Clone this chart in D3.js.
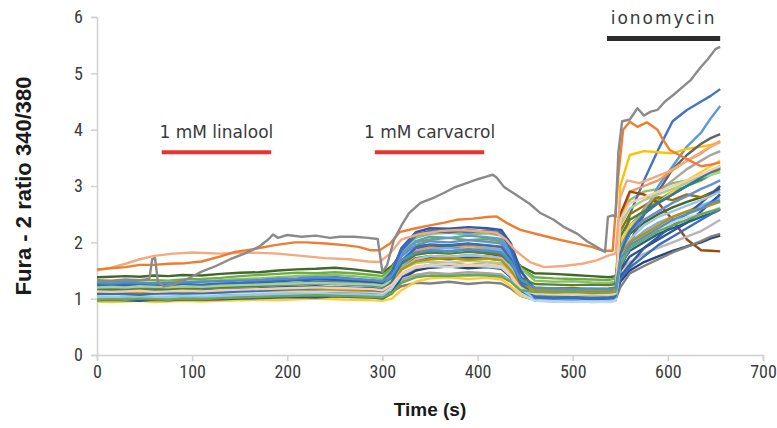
<!DOCTYPE html>
<html><head><meta charset="utf-8">
<script src="https://cdn.jsdelivr.net/npm/d3@7"></script>
<style>body{margin:0;background:#fff}svg{display:block}</style>
</head><body><svg id="c" width="777" height="428"></svg>
<script>
// shared sample times (s) for the bundle traces
const times = [0,15,30,45,60,75,90,110,130,150,170,190,210,230,250,270,290,300,310,320,335,350,370,390,410,425,435,445,460,480,500,520,538,545,550,560,575,590,605,620,635,645,655];

const bundleColors = ["#43682b","#70ad47","#8cc168","#4472c4","#5b9bd5","#ffc000","#636363","#f1975a","#9e480e","#264478","#808080","#b7b7b7","#255e91","#997300","#698ed0","#ffcd33","#7cafdd","#335aa1","#a5a5a5","#2f5597","#9dc3e6","#548235","#3c6bbf","#bdd7ee","#a9d18e","#bf9000","#2e75b6","#f8cbad","#6aa84f","#4f8fcf"];

const bundleValues = [
[1.38,1.39,1.40,1.39,1.41,1.40,1.42,1.41,1.44,1.46,1.47,1.50,1.52,1.53,1.55,1.52,1.48,1.46,1.58,1.80,1.93,1.96,1.95,1.98,1.94,1.92,1.80,1.58,1.45,1.44,1.42,1.40,1.38,1.40,1.80,2.15,2.35,2.50,2.62,2.72,2.80,2.88,2.95],
[1.30,1.31,1.30,1.32,1.33,1.32,1.34,1.35,1.37,1.40,1.42,1.44,1.46,1.45,1.47,1.45,1.42,1.40,1.55,1.82,2.00,2.05,2.08,2.04,2.06,2.02,1.85,1.55,1.38,1.36,1.35,1.34,1.33,1.36,1.90,2.30,2.55,2.75,2.90,3.00,3.10,3.20,3.30],
[1.25,1.26,1.27,1.26,1.28,1.30,1.29,1.31,1.33,1.35,1.36,1.38,1.40,1.41,1.42,1.40,1.37,1.35,1.50,1.85,2.08,2.15,2.17,2.14,2.16,2.12,1.92,1.55,1.32,1.30,1.31,1.29,1.28,1.30,2.40,2.75,2.90,2.95,3.05,3.10,3.15,3.20,3.25],
[1.20,1.21,1.22,1.20,1.21,1.22,1.23,1.22,1.25,1.28,1.32,1.35,1.33,1.30,1.31,1.30,1.28,1.26,1.45,1.85,2.12,2.20,2.22,2.18,2.21,2.18,1.95,1.50,1.15,1.12,1.10,1.11,1.10,1.12,1.70,2.50,3.10,3.65,4.15,4.35,4.50,4.60,4.72],
[1.15,1.14,1.16,1.15,1.17,1.16,1.18,1.17,1.19,1.21,1.22,1.24,1.25,1.27,1.26,1.24,1.22,1.20,1.40,1.78,2.02,2.10,2.08,2.12,2.09,2.06,1.80,1.40,1.03,1.00,1.01,0.99,1.00,1.02,1.50,1.95,2.50,3.00,3.35,3.70,3.95,4.20,4.42],
[0.98,0.97,0.99,0.98,0.97,0.98,0.99,0.98,1.00,1.01,1.02,1.03,1.04,1.05,1.04,1.03,1.02,1.01,1.08,1.30,1.50,1.58,1.62,1.60,1.63,1.60,1.45,1.20,1.02,1.00,0.99,1.00,0.99,1.01,3.00,3.55,3.62,3.60,3.58,3.66,3.70,3.73,3.78],
[1.10,1.11,1.10,1.09,1.11,1.12,1.11,1.13,1.14,1.15,1.16,1.18,1.19,1.20,1.21,1.19,1.17,1.15,1.30,1.62,1.80,1.86,1.84,1.88,1.85,1.82,1.62,1.30,1.07,1.05,1.06,1.04,1.05,1.07,1.50,2.00,2.50,2.90,3.30,3.55,3.75,3.85,3.92],
[1.08,1.09,1.08,1.10,1.09,1.10,1.11,1.12,1.13,1.14,1.15,1.16,1.18,1.17,1.19,1.18,1.16,1.14,1.30,1.65,1.85,1.92,1.90,1.93,1.91,1.88,1.68,1.35,1.17,1.15,1.16,1.14,1.15,1.17,2.30,2.90,3.00,3.10,3.28,3.45,3.58,3.70,3.80],
[1.05,1.06,1.05,1.07,1.06,1.08,1.07,1.09,1.10,1.11,1.12,1.13,1.14,1.15,1.14,1.13,1.12,1.10,1.28,1.65,1.90,1.95,1.92,1.85,1.80,1.76,1.55,1.25,1.10,1.08,1.09,1.07,1.08,1.10,2.50,2.90,2.85,2.70,2.40,2.05,1.86,1.85,1.84],
[1.00,0.99,1.01,1.00,0.99,1.00,1.01,1.00,1.02,1.01,1.03,1.04,1.05,1.04,1.06,1.05,1.04,1.03,1.12,1.35,1.50,1.55,1.57,1.54,1.56,1.53,1.38,1.15,1.01,1.00,0.99,1.00,0.99,1.00,1.30,1.50,1.65,1.75,1.85,1.93,2.00,2.07,2.12],
[1.05,1.06,1.05,1.04,1.06,1.05,1.07,1.06,1.08,1.09,1.10,1.11,1.12,1.11,1.10,1.09,1.08,1.07,1.12,1.22,1.28,1.27,1.30,1.26,1.29,1.27,1.18,1.05,0.98,0.97,0.98,0.96,0.97,0.98,1.20,1.45,1.58,1.70,1.82,1.92,2.02,2.10,2.15],
[1.15,1.14,1.15,1.16,1.14,1.15,1.16,1.15,1.17,1.16,1.18,1.19,1.20,1.21,1.20,1.19,1.18,1.17,1.22,1.35,1.42,1.40,1.43,1.41,1.44,1.40,1.30,1.12,1.05,1.04,1.05,1.03,1.04,1.05,1.50,1.65,1.80,1.90,2.00,2.10,2.20,2.30,2.40],
[1.12,1.13,1.12,1.11,1.13,1.14,1.13,1.14,1.16,1.17,1.18,1.20,1.21,1.22,1.20,1.19,1.18,1.16,1.28,1.55,1.68,1.72,1.70,1.73,1.71,1.69,1.52,1.25,1.06,1.05,1.04,1.05,1.04,1.06,1.60,1.85,2.00,2.15,2.25,2.35,2.45,2.52,2.60],
[1.08,1.07,1.08,1.09,1.10,1.09,1.10,1.11,1.12,1.13,1.12,1.14,1.15,1.16,1.15,1.14,1.13,1.12,1.25,1.55,1.72,1.76,1.74,1.77,1.75,1.72,1.55,1.30,1.20,1.18,1.19,1.17,1.18,1.20,2.20,2.50,2.65,2.80,2.75,2.85,2.80,2.85,2.90],
[1.18,1.19,1.18,1.20,1.19,1.21,1.20,1.22,1.23,1.24,1.26,1.27,1.28,1.27,1.29,1.28,1.26,1.24,1.40,1.75,1.95,2.02,2.00,2.04,2.01,1.98,1.75,1.35,1.12,1.10,1.11,1.09,1.10,1.12,1.90,2.20,2.40,2.55,2.70,2.82,2.95,3.02,3.10],
[0.95,0.94,0.95,0.96,0.94,0.95,0.96,0.95,0.96,0.97,0.98,0.97,0.99,1.00,0.99,0.98,0.97,0.96,1.00,1.15,1.30,1.36,1.38,1.35,1.37,1.34,1.22,1.05,0.99,0.98,0.99,0.97,0.98,0.99,2.00,2.30,2.50,2.70,2.90,3.10,3.25,3.35,3.45],
[1.00,1.01,1.00,0.99,1.01,1.02,1.01,1.02,1.03,1.05,1.06,1.07,1.08,1.09,1.08,1.07,1.06,1.05,1.20,1.55,1.80,1.88,1.90,1.87,1.89,1.86,1.60,1.20,0.97,0.95,0.96,0.94,0.95,0.96,1.70,2.00,2.20,2.35,2.45,2.55,2.65,2.72,2.80],
[1.22,1.23,1.22,1.24,1.23,1.22,1.24,1.23,1.25,1.27,1.29,1.31,1.33,1.35,1.34,1.32,1.30,1.28,1.48,1.90,2.18,2.25,2.24,2.27,2.25,2.22,1.98,1.50,1.17,1.15,1.14,1.15,1.14,1.16,1.40,1.60,1.90,2.10,2.30,2.50,2.70,2.85,3.00],
[1.12,1.11,1.12,1.13,1.12,1.11,1.13,1.12,1.14,1.15,1.14,1.16,1.17,1.16,1.15,1.14,1.13,1.12,1.18,1.32,1.42,1.46,1.44,1.47,1.45,1.43,1.32,1.15,1.06,1.05,1.04,1.05,1.04,1.05,1.70,2.20,2.60,2.90,3.10,3.30,3.45,3.55,3.62],
[0.97,0.98,0.97,0.96,0.98,0.97,0.99,0.98,0.99,1.00,1.01,1.02,1.03,1.02,1.04,1.03,1.02,1.00,1.10,1.38,1.55,1.60,1.62,1.59,1.61,1.58,1.42,1.12,0.98,0.97,0.96,0.97,0.96,0.98,1.50,1.75,1.90,2.05,2.20,2.35,2.55,2.70,2.85],
[1.03,1.02,1.04,1.03,1.02,1.03,1.04,1.05,1.04,1.06,1.07,1.08,1.09,1.10,1.09,1.08,1.07,1.06,1.20,1.52,1.70,1.76,1.74,1.77,1.75,1.72,1.55,1.18,1.00,0.98,0.99,0.97,0.98,0.99,1.70,2.05,2.30,2.45,2.55,2.65,2.75,2.82,2.90],
[1.15,1.16,1.15,1.17,1.16,1.18,1.17,1.19,1.20,1.22,1.23,1.25,1.26,1.28,1.27,1.26,1.24,1.22,1.35,1.62,1.78,1.82,1.80,1.83,1.81,1.78,1.62,1.38,1.26,1.25,1.24,1.25,1.24,1.26,2.10,2.40,2.55,2.70,2.85,3.00,3.12,3.22,3.32],
[1.25,1.24,1.26,1.25,1.24,1.25,1.26,1.25,1.27,1.28,1.30,1.32,1.34,1.36,1.38,1.35,1.32,1.30,1.48,1.88,2.15,2.20,2.18,2.22,2.19,2.15,1.88,1.40,1.02,1.00,1.01,0.99,1.00,1.01,1.35,1.55,1.75,1.95,2.10,2.25,2.40,2.50,2.58],
[1.07,1.06,1.07,1.08,1.06,1.07,1.08,1.07,1.09,1.10,1.11,1.12,1.13,1.12,1.14,1.13,1.12,1.10,1.20,1.42,1.55,1.58,1.56,1.59,1.57,1.55,1.40,1.10,0.96,0.95,0.94,0.95,0.94,0.96,1.60,1.90,2.10,2.25,2.35,2.45,2.50,2.55,2.62],
[1.20,1.21,1.20,1.22,1.21,1.20,1.22,1.21,1.23,1.24,1.25,1.26,1.27,1.28,1.27,1.26,1.25,1.23,1.32,1.52,1.63,1.66,1.64,1.67,1.65,1.63,1.48,1.20,1.11,1.10,1.09,1.10,1.09,1.11,2.30,2.60,2.75,2.85,2.95,3.05,3.15,3.20,3.25],
[1.10,1.09,1.10,1.11,1.09,1.10,1.11,1.10,1.12,1.13,1.14,1.15,1.16,1.17,1.16,1.15,1.14,1.13,1.25,1.52,1.66,1.70,1.72,1.69,1.71,1.68,1.50,1.25,1.16,1.15,1.14,1.15,1.14,1.16,1.80,2.00,2.15,2.30,2.45,2.55,2.60,2.66,2.72],
[1.08,1.09,1.08,1.07,1.09,1.10,1.09,1.10,1.11,1.13,1.14,1.16,1.18,1.19,1.20,1.18,1.16,1.14,1.30,1.68,1.90,1.96,1.94,1.97,1.95,1.92,1.70,1.28,1.04,1.02,1.03,1.01,1.02,1.03,1.80,2.20,2.50,2.70,2.85,3.00,3.15,3.25,3.35],
[1.13,1.12,1.13,1.14,1.12,1.13,1.14,1.13,1.15,1.16,1.17,1.18,1.19,1.20,1.19,1.18,1.17,1.15,1.25,1.45,1.57,1.60,1.62,1.59,1.61,1.58,1.42,1.18,1.09,1.08,1.07,1.08,1.07,1.09,2.40,2.70,2.80,2.90,3.00,3.10,3.20,3.28,3.35],
[0.98,0.99,0.98,1.00,0.99,0.98,1.00,0.99,1.01,1.02,1.03,1.04,1.05,1.06,1.05,1.04,1.03,1.02,1.10,1.28,1.38,1.41,1.40,1.42,1.41,1.39,1.30,1.15,1.12,1.11,1.12,1.10,1.11,1.12,1.60,1.90,2.05,2.20,2.30,2.40,2.50,2.55,2.60],
[1.28,1.27,1.29,1.28,1.27,1.28,1.29,1.30,1.31,1.32,1.33,1.35,1.36,1.38,1.37,1.35,1.33,1.31,1.42,1.68,1.82,1.86,1.84,1.87,1.85,1.82,1.65,1.35,1.19,1.18,1.17,1.18,1.17,1.19,1.70,1.95,2.10,2.25,2.40,2.50,2.60,2.70,2.75]
];

// three high traces, each with its own times
const salmonTimes = [0,15,30,45,60,80,100,130,160,190,215,240,265,285,297,308,320,340,360,380,400,420,430,440,455,470,490,510,525,538,545,550,557,570,585,600,615,630,645,655];
const salmonValues = [1.50,1.55,1.62,1.70,1.76,1.80,1.82,1.80,1.82,1.80,1.76,1.72,1.70,1.66,1.65,1.80,2.05,2.15,2.20,2.22,2.20,2.17,2.05,1.85,1.65,1.56,1.58,1.62,1.68,1.77,1.80,2.80,3.10,3.05,3.15,3.25,3.40,3.55,3.70,3.78];
const orangeTimes = [0,15,30,45,60,75,93,110,130,145,165,187,208,220,240,260,275,287,297,308,318,335,350,365,378,395,410,420,430,445,466,485,501,520,532,542,548,553,560,568,578,589,595,602,612,623,635,645,655];
const orangeValues = [1.52,1.54,1.56,1.60,1.60,1.62,1.63,1.66,1.75,1.83,1.88,1.95,2.00,2.00,1.98,1.95,1.92,1.86,1.86,1.98,2.18,2.25,2.30,2.35,2.40,2.42,2.45,2.46,2.35,2.22,2.13,2.05,1.99,1.92,1.85,1.85,3.20,4.00,4.14,4.05,4.13,4.00,3.82,3.64,3.55,3.45,3.35,3.38,3.42];
const grayTimes = [0,15,30,45,55,58,61,64,70,80,95,110,125,140,155,170,180,185,190,200,215,230,245,255,270,285,295,300,305,312,320,328,340,355,365,375,390,400,410,416,420,428,440,455,466,480,490,505,515,525,534,537,542,545,548,552,560,568,575,582,589,597,606,615,624,634,642,650,655];
const grayValues = [1.33,1.32,1.34,1.33,1.35,1.70,1.72,1.30,1.22,1.25,1.35,1.48,1.58,1.70,1.80,1.92,2.05,2.14,2.08,2.13,2.10,2.12,2.08,2.10,2.10,2.08,2.06,1.47,1.60,2.04,2.30,2.52,2.70,2.80,2.88,2.97,3.06,3.12,3.17,3.20,3.15,2.98,2.85,2.68,2.52,2.40,2.28,2.15,2.02,1.92,1.83,2.45,2.48,2.45,3.60,4.15,4.18,4.38,4.25,4.32,4.35,4.50,4.62,4.75,4.88,5.10,5.25,5.43,5.47];

const xTicks = [0,100,200,300,400,500,600,700];
const yTicks = [0,1,2,3,4,5,6];
const annotations = [
  {label:"1 mM linalool", t0:68, t1:183, v:3.6, color:"#e8342e"},
  {label:"1 mM carvacrol", t0:292, t1:407, v:3.6, color:"#e8342e"},
  {label:"ionomycin", t0:536, t1:655, v:5.62, color:"#2b2b2b"}
];

const svg = d3.select("#c");
const x = d3.scaleLinear().domain([0,700]).range([97,763]);
const y = d3.scaleLinear().domain([0,6]).range([355,17]);
const tickFont = "'Liberation Sans Narrow','Roboto Condensed','Liberation Sans',sans-serif";

// axes
const ax = svg.append("g").attr("transform","translate(0,355)")
  .call(d3.axisBottom(x).tickValues(xTicks).tickFormat(d3.format("d")).tickSize(6).tickPadding(4));
const ay = svg.append("g").attr("transform","translate(97,0)")
  .call(d3.axisLeft(y).tickValues(yTicks).tickFormat(d3.format("d")).tickSize(6).tickPadding(8));
[ax,ay].forEach(g=>{
  g.selectAll(".domain").attr("stroke","#d0d0d0").attr("stroke-width",1.5);
  g.selectAll(".tick line").attr("stroke","#d0d0d0").attr("stroke-width",1.5);
  g.selectAll(".tick text").attr("fill","#3c3c3c").style("font-family",tickFont).style("font-size","18px");
});

const line = d3.line().x(d=>x(d[0])).y(d=>y(d[1]));
const plot = svg.append("g").attr("fill","none").attr("stroke-width",2.4).attr("stroke-linejoin","round");
bundleValues.forEach((vals,i)=>{
  plot.append("path").attr("d",line(times.map((t,j)=>[t,vals[j]]))).attr("stroke",bundleColors[i]);
});
plot.append("path").attr("d",line(salmonTimes.map((t,j)=>[t,salmonValues[j]]))).attr("stroke","#f4a97e");
plot.append("path").attr("d",line(orangeTimes.map((t,j)=>[t,orangeValues[j]]))).attr("stroke","#ed7d31");
plot.append("path").attr("d",line(grayTimes.map((t,j)=>[t,grayValues[j]]))).attr("stroke","#8a8a8a");

// annotations
annotations.forEach(a=>{
  svg.append("line").attr("x1",x(a.t0)).attr("x2",x(a.t1)).attr("y1",y(a.v)).attr("y2",y(a.v))
    .attr("stroke",a.color).attr("stroke-width",a.label==="ionomycin"?5:4);
  svg.append("text").attr("x",(x(a.t0)+x(a.t1))/2).attr("y",y(a.v)-14)
    .attr("text-anchor","middle").attr("fill","#3a3a3a")
    .style("font-family","'DejaVu Sans',sans-serif").style("font-size","17px")
    .style("letter-spacing",a.label==="ionomycin"?"2px":"0px")
    .text(a.label);
});

// axis titles
svg.append("text").attr("x",430).attr("y",416).attr("text-anchor","middle")
  .style("font-family","'Liberation Sans',Arial,sans-serif").style("font-weight","bold").style("font-size","19px")
  .attr("fill","#1a1a1a").text("Time (s)");
svg.append("text").attr("transform","translate(31,186) rotate(-90)").attr("text-anchor","middle")
  .style("font-family","'Liberation Sans',Arial,sans-serif").style("font-weight","bold").style("font-size","22px")
  .attr("fill","#1a1a1a").text("Fura - 2 ratio 340/380");
</script></body></html>
